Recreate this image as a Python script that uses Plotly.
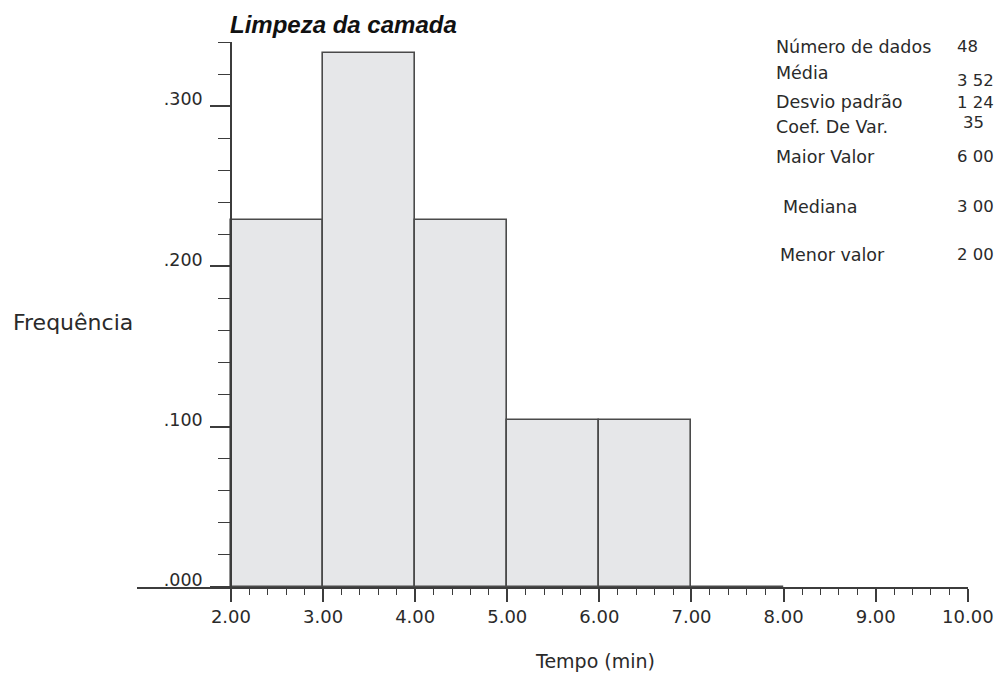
import plotly.graph_objects as go
import numpy as np

# Data
bin_left = [2, 3, 4, 5, 6, 7]
counts = [11, 16, 11, 5, 5, 0]
n_total = 48
x_ticks = [2, 3, 4, 5, 6, 7, 8, 9, 10]
x_ticktext = ["2.00", "3.00", "4.00", "5.00", "6.00", "7.00", "8.00", "9.00", "10.00"]
y_ticks = [0.0, 0.1, 0.2, 0.3]
y_ticktext = [".000", ".100", ".200", ".300"]
stat_labels = ["Número de dados", "Média", "Desvio padrão", "Coef. De Var.", "Maior Valor", "Mediana", "Menor valor"]
stat_values = ["48", "3 52", "1 24", "35", "6 00", "3 00", "2 00"]

freq = [c / n_total for c in counts]
centers = [b + 0.5 for b in bin_left]

W, H = 998, 675
L, R, T, B = 137, 30, 42, 88
PW, PH = W - L - R, H - T - B

def px(x):
    return (x - L) / PW

def py(y):
    return (H - B - y) / PH

FONT = "DejaVu Sans, Verdana, sans-serif"
AX = "#3c3c3c"
TXT = "#2a2a2a"

fig = go.Figure()
fig.add_trace(go.Bar(
    x=centers, y=freq, width=1.0,
    marker=dict(color="#e6e7e9", line=dict(color="#4a4a4a", width=1.6)),
    showlegend=False, hoverinfo="x+y",
))

fig.update_layout(
    width=W, height=H,
    margin=dict(l=L, r=R, t=T, b=B),
    plot_bgcolor="white", paper_bgcolor="white",
    font=dict(family=FONT, size=17, color=TXT),
    bargap=0,
    xaxis=dict(
        range=[0.98, 10.002], showgrid=False, zeroline=False, automargin=False,
        showline=True, linecolor=AX, linewidth=1.5,
        tickmode="array", tickvals=x_ticks, ticktext=x_ticktext,
        ticks="outside", ticklen=13, tickwidth=1.5, tickcolor=AX,
        minor=dict(tickmode="array", tickvals=list(np.round(np.arange(2.2, 10.0, 0.2), 2)),
                   ticks="outside", ticklen=6, tickwidth=1.2, tickcolor=AX),
        tickfont=dict(family=FONT, size=18, color=TXT),
    ),
    yaxis=dict(
        range=[0, 0.34], showgrid=False, zeroline=False, automargin=False,
        anchor="free", position=px(231),
        showline=True, linecolor=AX, linewidth=1.5,
        tickmode="array", tickvals=y_ticks, ticktext=y_ticktext,
        ticks="outside", ticklen=20, tickwidth=1.5, tickcolor=AX,
        ticklabelshift=-7, ticklabelstandoff=4,
        minor=dict(tickmode="array", tickvals=list(np.round(np.arange(0.02, 0.341, 0.02), 2)),
                   ticks="outside", ticklen=12, tickwidth=1.2, tickcolor=AX),
        tickfont=dict(family=FONT, size=17.5, color=TXT),
    ),
)

ann = []
ann.append(dict(text="<b><i>Limpeza da camada</i></b>", x=px(228), y=py(24), xref="paper", yref="paper",
                xanchor="left", yanchor="middle", showarrow=False,
                font=dict(family="Liberation Sans, Arial, sans-serif", size=24, color="#111")))
ann.append(dict(text="Frequência", x=px(11), y=py(322), xref="paper", yref="paper",
                xanchor="left", yanchor="middle", showarrow=False, font=dict(size=22, color=TXT)))
ann.append(dict(text="Tempo (min)", x=px(595), y=py(661), xref="paper", yref="paper",
                xanchor="center", yanchor="middle", showarrow=False, font=dict(size=19, color=TXT)))

label_pos = [(774, 47), (774, 73), (774, 102), (774, 127), (774, 157), (781, 207), (778, 255)]
value_pos = [(955, 46), (955, 80), (955, 102), (961, 123), (955, 157), (955, 207), (955, 255)]
for lab, (lx, ly) in zip(stat_labels, label_pos):
    ann.append(dict(text=lab, x=px(lx), y=py(ly), xref="paper", yref="paper",
                    xanchor="left", yanchor="middle", showarrow=False, font=dict(size=17.5, color=TXT)))
for val, (vx, vy) in zip(stat_values, value_pos):
    ann.append(dict(text=val, x=px(vx), y=py(vy), xref="paper", yref="paper",
                    xanchor="left", yanchor="middle", showarrow=False, font=dict(size=16.5, color=TXT)))
fig.update_layout(annotations=ann)

fig.write_html("out.html")
